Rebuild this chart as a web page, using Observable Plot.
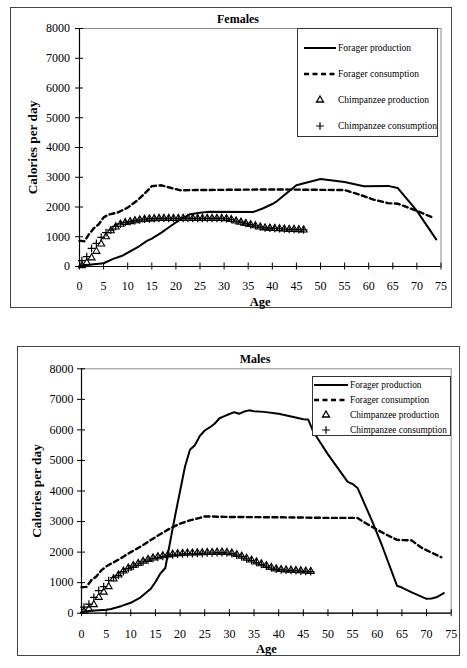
<!DOCTYPE html>
<html><head><meta charset="utf-8">
<script src="https://cdn.jsdelivr.net/npm/d3@7"></script>
<script src="https://cdn.jsdelivr.net/npm/@observablehq/plot@0.6"></script>
<style>
body{margin:0;background:#fff;font-family:"Liberation Serif","Times New Roman",Times,serif;}
#page{position:relative;width:467px;height:668px;overflow:hidden;font-family:"Liberation Serif","Times New Roman",Times,serif;}
.frame{position:absolute;border:1px solid #444;box-sizing:border-box;}
.chart{position:absolute;left:0;}
.title{position:absolute;font-weight:bold;font-size:12px;transform:translate(-50%,-50%);white-space:nowrap;font-family:"Liberation Serif","Times New Roman",serif;}
.legend{position:absolute;background:#fff;border:1px solid #333;box-sizing:border-box;}
.legend svg{position:absolute;left:0;top:0;overflow:visible;}
svg text, svg g{font-family:"Liberation Serif","Times New Roman",Times,serif;}
g[aria-label="x-axis label"]{font-weight:bold;font-size:12.5px;}
g[aria-label="y-axis label"]{font-weight:bold;font-size:13.3px;}
</style>
</head><body>
<div id="page"></div>
<script>
// ---------- data ----------
const xTicks = [0,5,10,15,20,25,30,35,40,45,50,55,60,65,70,75];
const yTicks = [0,1000,2000,3000,4000,5000,6000,7000,8000];
const seriesNames = ["Forager production","Forager consumption","Chimpanzee production","Chimpanzee consumption"];
const panelTitles = ["Females","Males"];
const xLabel = "Age";
const yLabel = "Calories per day";

// Females
const femForProdAge = [0,2,5,7,9,12,14,15,17,19,21,23,25,27,36,38,40,41,45,50,55,59,64,66,70,74];
const femForProdCal = [30,60,110,255,370,640,860,940,1140,1370,1590,1760,1810,1840,1830,1950,2100,2200,2730,2940,2840,2700,2710,2640,1870,910];
const femForConsAge = [0,1,2,3,4,5,6,8,10,12,14,15,17,19,21,24,40,55,58,61,64,66,70,73.5];
const femForConsCal = [870,845,1090,1290,1420,1650,1740,1820,1980,2220,2530,2700,2730,2640,2560,2570,2590,2570,2420,2250,2130,2110,1870,1630];

// Males
const maleForProdAge = [0,2,5,6,8,10,12,14,15,16,17,18,19,20,21,22,23,24,25,26,27,28,29,30,31,32,33,34,35,37,40,43,45,46,47,50,54,55,56,59,61,64,65,67,70,71,72,73.5];
const maleForProdCal = [30,80,110,140,230,340,520,790,1020,1300,1480,2350,3200,4000,4800,5350,5500,5800,5980,6080,6200,6380,6450,6520,6580,6530,6600,6640,6610,6590,6530,6420,6350,6340,5950,5200,4300,4230,4100,3000,2200,900,840,680,470,480,520,660];
const maleForConsAge = [0,1,2,3,4,5,6,8,10,12,15,18,20,22,24,25,30,40,50,56,57,60,62,64,67,69,73];
const maleForConsCal = [850,860,1080,1200,1400,1530,1620,1800,2000,2180,2490,2780,2930,3040,3120,3170,3150,3140,3120,3120,3010,2730,2560,2400,2380,2140,1830];

// Chimpanzee ages (one value per year of age)
const chimpAge = [0.5,1.5,2.5,3.5,4.5,5.5,6.5,7.5,8.5,9.5,10.5,11.5,12.5,13.5,14.5,15.5,16.5,17.5,18.5,19.5,20.5,21.5,22.5,23.5,24.5,25.5,26.5,27.5,28.5,29.5,30.5,31.5,32.5,33.5,34.5,35.5,36.5,37.5,38.5,39.5,40.5,41.5,42.5,43.5,44.5,45.5,46.5];
const femChimpProd = [30,130,290,510,755,1000,1200,1330,1420,1480,1510,1540,1570,1590,1600,1610,1620,1620,1620,1620,1620,1620,1620,1620,1620,1620,1620,1620,1620,1620,1610,1580,1530,1490,1450,1410,1370,1330,1300,1290,1280,1270,1260,1250,1250,1240,1230];
const femChimpCons = [200,330,610,780,980,1140,1220,1350,1430,1480,1510,1540,1570,1590,1600,1610,1620,1620,1620,1620,1620,1620,1620,1620,1620,1620,1620,1620,1620,1620,1610,1580,1530,1490,1450,1410,1370,1330,1300,1290,1280,1270,1260,1250,1250,1240,1230];
const maleChimpProd = [65,140,280,520,690,870,1120,1250,1380,1480,1560,1630,1700,1760,1810,1850,1880,1910,1930,1950,1960,1970,1970,1980,1980,1990,1990,2000,2000,1990,1970,1920,1870,1800,1740,1680,1620,1560,1500,1450,1430,1420,1410,1400,1390,1380,1370];
const maleChimpCons = [200,300,520,740,870,1070,1160,1240,1360,1460,1540,1610,1680,1740,1790,1830,1860,1890,1910,1930,1940,1950,1950,1960,1960,1970,1970,1980,1980,1970,1950,1900,1850,1780,1720,1660,1600,1540,1480,1440,1420,1410,1400,1390,1380,1370,1360];

// ---------- styles ----------
const FONT = '"Liberation Serif", "Times New Roman", Times, serif';
const DASH = "5,3.5";
const page = document.getElementById("page");
const zip = (a, b) => a.map((x, i) => ({age: x, cal: b[i]}));

function addDiv(cls, css, html) {
  const d = document.createElement("div");
  d.className = cls;
  Object.assign(d.style, css);
  if (html != null) d.textContent = html;
  page.appendChild(d);
  return d;
}

function panel(cfg) {
  addDiv("frame", {left: cfg.frame[0] + "px", top: cfg.frame[1] + "px", width: cfg.frame[2] + "px", height: cfg.frame[3] + "px"});
  const chart = Plot.plot({
    width: 467,
    height: cfg.height,
    marginLeft: cfg.m[0], marginRight: cfg.m[1], marginTop: cfg.m[2], marginBottom: cfg.m[3],
    style: {fontFamily: FONT, fontSize: "12px", background: "transparent", color: "#000", overflow: "visible"},
    x: {domain: [0, 75]},
    y: {domain: [0, 8000]},
    marks: [
      Plot.frame({stroke: "#8a8a8a", strokeWidth: 1}),
      Plot.axisY(yTicks, {tickSize: 8, dx: 4, tickFormat: () => "", label: null, stroke: "#000"}),
      Plot.axisX(xTicks, {tickSize: 7, dy: -3.5, tickFormat: () => "", label: null, stroke: "#000"}),
      Plot.axisY(yTicks, {tickSize: 0, tickPadding: cfg.yPad, tickFormat: d => String(d), fontFamily: FONT, label: yLabel, labelAnchor: "center", labelArrow: "none", labelOffset: cfg.yLabOff}),
      Plot.axisX(xTicks, {tickSize: 0, tickPadding: cfg.xPad, tickFormat: d => String(d), fontFamily: FONT, label: xLabel, labelAnchor: "center", labelArrow: "none", labelOffset: cfg.xLabOff}),
      Plot.ruleY([0], {stroke: "#000", strokeWidth: 1.2}),
      Plot.ruleX([0], {stroke: "#000", strokeWidth: 1.2}),
      Plot.line(cfg.cons, {x: "age", y: "cal", stroke: "#000", strokeWidth: 2.4, strokeDasharray: DASH}),
      Plot.line(cfg.prod, {x: "age", y: "cal", stroke: "#000", strokeWidth: 2}),
      Plot.dot(cfg.chProd, {x: "age", y: "cal", symbol: "triangle", r: 2.6, stroke: "#000", fill: "none", strokeWidth: 1.1}),
      Plot.dot(cfg.chCons, {x: "age", y: "cal", symbol: "plus", r: 2.6, stroke: "#000", strokeWidth: 1.2})
    ]
  });
  const holder = addDiv("chart", {top: cfg.top + "px"});
  holder.appendChild(chart);
  addDiv("title", {left: cfg.titlePos[0] + "px", top: cfg.titlePos[1] + "px"}, cfg.title);
  legend(cfg.leg);
}

function legend(L) {
  const box = addDiv("legend", {left: L.left + "px", top: L.top + "px", width: L.w + "px", height: L.h + "px"});
  const svg = d3.select(box).append("svg").attr("width", L.w).attr("height", L.h);
  const kinds = ["solid", "dash", "tri", "plus"];
  kinds.forEach((k, i) => {
    const y = L.rows[i];
    if (k === "solid" || k === "dash") {
      svg.append("line").attr("x1", L.line[0]).attr("x2", L.line[1]).attr("y1", y).attr("y2", y)
        .attr("stroke", "#000").attr("stroke-width", k === "solid" ? 2 : 2.4)
        .attr("stroke-dasharray", k === "dash" ? DASH : null);
    } else {
      const type = k === "tri" ? d3.symbolTriangle : d3.symbolPlus;
      const r = 2.6;
      svg.append("path").attr("d", d3.symbol(type, Math.PI * r * r)())
        .attr("transform", `translate(${L.sym},${y})`)
        .attr("fill", "none").attr("stroke", "#000").attr("stroke-width", k === "tri" ? 1.3 : 1.2);
    }
    svg.append("text").attr("x", L.text).attr("y", y).attr("dy", "0.35em")
      .attr("font-size", L.fs).attr("font-family", FONT).attr("fill", "#000").text(seriesNames[i]);
  });
}

function draw() {
  page.innerHTML = "";
  panel({
    title: panelTitles[0], titlePos: [238, 19],
    frame: [10, 7, 442, 301],
    top: 0, height: 310, m: [79, 26.5, 28, 44],
    yPad: 9.5, xPad: 14.7, yLabOff: 52, xLabOff: 39,
    prod: zip(femForProdAge, femForProdCal),
    cons: zip(femForConsAge, femForConsCal),
    chProd: zip(chimpAge, femChimpProd),
    chCons: zip(chimpAge, femChimpCons),
    leg: {left: 297, top: 28, w: 141, h: 109, rows: [19, 45, 71, 97], line: [6, 38], sym: 22, text: 40, fs: 9.5}
  });
  panel({
    title: panelTitles[1], titlePos: [255, 359],
    frame: [17, 346, 443, 310],
    top: 330, height: 330, m: [81, 16.3, 38.3, 47.3],
    yPad: 8, xPad: 16.3, yLabOff: 50, xLabOff: 39.3,
    prod: zip(maleForProdAge, maleForProdCal),
    cons: zip(maleForConsAge, maleForConsCal),
    chProd: zip(chimpAge, maleChimpProd),
    chCons: zip(chimpAge, maleChimpCons),
    leg: {left: 312, top: 376, w: 139, h: 60, rows: [8, 23, 38, 53], line: [1, 35], sym: 13, text: 37, fs: 9.3}
  });
}
draw();
</script>
</body></html>
